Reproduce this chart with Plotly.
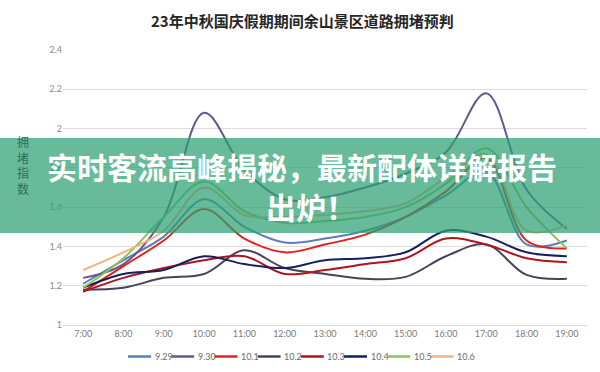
import plotly.graph_objects as go

# ---------------- data ----------------
hours = ["7:00", "8:00", "9:00", "10:00", "11:00", "12:00", "13:00",
         "14:00", "15:00", "16:00", "17:00", "18:00", "19:00"]

series_names = ["9.29", "9.30", "10.1", "10.2", "10.3", "10.4", "10.5", "10.6"]

s_929 = [1.21, 1.33, 1.45, 1.64, 1.50, 1.42, 1.44, 1.48, 1.55, 1.66, 1.78, 1.41, 1.43]
s_930 = [1.24, 1.31, 1.55, 2.08, 1.79, 1.64, 1.65, 1.70, 1.77, 1.88, 2.18, 1.69, 1.49]
s_101 = [1.17, 1.30, 1.43, 1.59, 1.44, 1.37, 1.41, 1.46, 1.55, 1.68, 1.85, 1.43, 1.39]
s_102 = [1.18, 1.19, 1.24, 1.26, 1.38, 1.29, 1.26, 1.235, 1.245, 1.35, 1.41, 1.255, 1.235]
s_103 = [1.17, 1.24, 1.29, 1.33, 1.35, 1.26, 1.28, 1.31, 1.34, 1.44, 1.41, 1.34, 1.32]
s_104 = [1.19, 1.26, 1.28, 1.35, 1.31, 1.29, 1.33, 1.34, 1.37, 1.48, 1.45, 1.37, 1.35]
s_105 = [1.19, 1.34, 1.55, 1.73, 1.58, 1.52, 1.53, 1.55, 1.60, 1.72, 1.90, 1.60, 1.39]
s_106 = [1.28, 1.37, 1.48, 1.70, 1.56, 1.55, 1.56, 1.58, 1.62, 1.75, 1.87, 1.48, 1.51]

series_values = [s_929, s_930, s_101, s_102, s_103, s_104, s_105, s_106]

title_text = "23年中秋国庆假期期间余山景区道路拥堵预判"
y_title = "拥堵指数"
banner_line1 = "实时客流高峰揭秘，最新配体详解报告"
banner_line2 = "出炉！"

# ---------------- styles ----------------
colors = ["#5B7FB5", "#66578F", "#E3201E", "#45445A",
          "#B0141E", "#12205E", "#8CC45A", "#F4B183"]

W, H = 600, 372
L, R, T, B = 63, 13, 50, 47
PW, PH = W - L - R, H - T - B


def px(x):
    return (x - L) / PW


def py(y):
    return (H - B - y) / PH


fig = go.Figure()
for name, vals, col in zip(series_names, series_values, colors):
    fig.add_trace(go.Scatter(
        x=hours, y=vals, name=name, mode="lines",
        line=dict(color=col, width=2, shape="spline", smoothing=1.0),
        showlegend=False, hoverinfo="skip"))

shapes = []
annotations = []

# custom compact legend
for i, (name, col) in enumerate(zip(series_names, colors)):
    x0 = 128 + i * 43.2
    shapes.append(dict(type="line", xref="paper", yref="paper",
                       x0=px(x0), x1=px(x0 + 23), y0=py(356.5), y1=py(356.5),
                       line=dict(color=col, width=2.5)))
    annotations.append(dict(text=name, xref="paper", yref="paper",
                            x=px(x0 + 24.5), y=py(356.5), xanchor="left", yanchor="middle",
                            showarrow=False, font=dict(family="Lato", size=9, color="#6b6b6b")))

# green banner overlay
shapes.append(dict(type="rect", xref="paper", yref="paper", layer="above",
                   x0=px(0), x1=px(W), y0=py(233), y1=py(138),
                   fillcolor="rgba(45,160,115,0.72)", line=dict(width=0)))

# title
annotations.append(dict(text="<b>" + title_text + "</b>", xref="paper", yref="paper",
                        x=px(302), y=py(21), xanchor="center", yanchor="middle",
                        showarrow=False,
                        font=dict(family="Noto Sans CJK SC", size=15, color="#262626")))

# y-axis title (vertical stacked)
annotations.append(dict(text="<br>".join(list(y_title)), xref="paper", yref="paper",
                        x=px(23), y=py(165), xanchor="center", yanchor="middle",
                        showarrow=False,
                        font=dict(family="Noto Sans CJK SC", size=12, color="#2f6f58")))

# banner texts
annotations.append(dict(text="<b>" + banner_line1 + "</b>", xref="paper", yref="paper",
                        x=px(302), y=py(166), xanchor="center", yanchor="middle",
                        showarrow=False,
                        font=dict(family="Noto Sans CJK SC", size=30, color="white")))
annotations.append(dict(text="<b>" + banner_line2 + "</b>", xref="paper", yref="paper",
                        x=px(264), y=py(206), xanchor="left", yanchor="middle",
                        showarrow=False,
                        font=dict(family="Noto Sans CJK SC", size=30, color="white")))

fig.update_layout(
    width=W, height=H,
    margin=dict(l=L, r=R, t=T, b=B),
    paper_bgcolor="white", plot_bgcolor="white",
    shapes=shapes, annotations=annotations,
    showlegend=False,
    xaxis=dict(type="category", range=[-0.5, 12.5], showgrid=False, zeroline=False,
               showline=True, linecolor="#d9d9d9", linewidth=1, ticks="",
               tickfont=dict(family="Lato", size=9, color="#7a7a7a")),
    yaxis=dict(range=[1, 2.4], tick0=1, dtick=0.2, showgrid=True, gridcolor="#dcdcdc",
               gridwidth=1, zeroline=False, showline=False, ticks="",
               tickfont=dict(family="Lato", size=9, color="#8a8a8a")),
)

fig.write_html("out.html", config={"displayModeBar": False},
               post_script="document.body.style.margin='0';document.body.style.overflow='hidden';")
